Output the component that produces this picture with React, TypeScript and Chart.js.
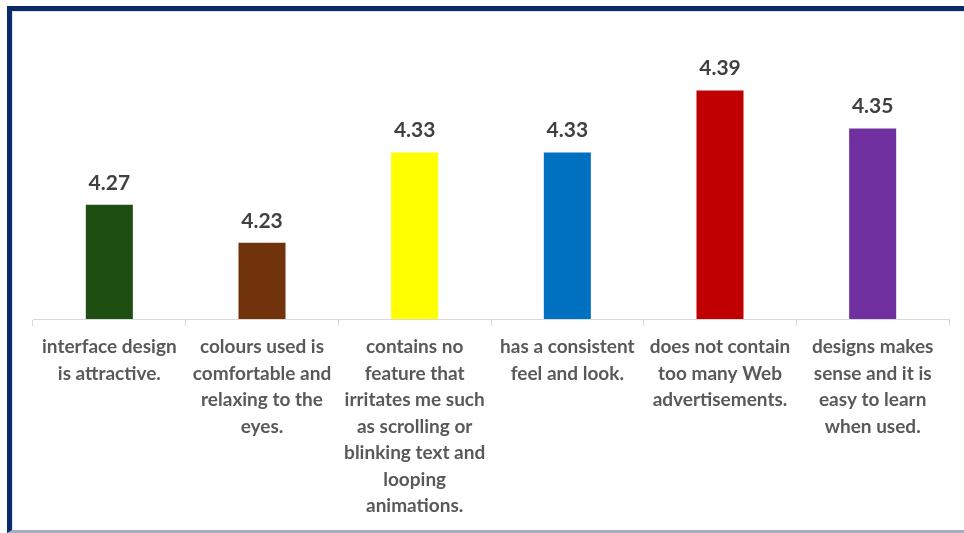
import React, { useEffect, useRef } from "react";
import { Chart, registerables } from "chart.js";

Chart.register(...registerables);

const categories: string[][] = [
  ["interface design", "is attractive."],
  ["colours used is", "comfortable and", "relaxing to the", "eyes."],
  ["contains no", "feature that", "irritates me such", "as scrolling or", "blinking text and", "looping", "animations."],
  ["has a consistent", "feel and look."],
  ["does not contain", "too many Web", "advertisements."],
  ["designs makes", "sense and it is", "easy to learn", "when used."],
];

const values: number[] = [4.27, 4.23, 4.325, 4.325, 4.39, 4.35];
const valueLabels: string[] = ["4.27", "4.23", "4.33", "4.33", "4.39", "4.35"];
const barColors: string[] = ["#1f4e13", "#70330b", "#ffff00", "#0070c0", "#c00000", "#7030a0"];

const FONT = "Lato, 'Open Sans', sans-serif";

const valueLabelPlugin = {
  id: "valueLabels",
  afterDatasetsDraw(chart: any) {
    const ctx = chart.ctx;
    const meta = chart.getDatasetMeta(0);
    ctx.save();
    ctx.font = `bold 21px ${FONT}`;
    ctx.fillStyle = "#404040";
    ctx.textAlign = "center";
    ctx.textBaseline = "middle";
    meta.data.forEach((bar: any, i: number) => {
      ctx.fillText(valueLabels[i], bar.x, bar.y - 22);
    });
    ctx.restore();
  },
};

export default function App() {
  const ref = useRef<HTMLCanvasElement | null>(null);

  useEffect(() => {
    if (!ref.current) return;
    const chart = new Chart(ref.current, {
      type: "bar",
      data: {
        labels: categories,
        datasets: [
          {
            data: values,
            backgroundColor: barColors,
            borderWidth: 0,
            barPercentage: 0.308,
            categoryPercentage: 1,
          },
        ],
      },
      options: {
        animation: false,
        responsive: false,
        maintainAspectRatio: false,
        layout: { padding: { left: 33, right: 15, top: 81, bottom: 0 } },
        plugins: {
          legend: { display: false },
          tooltip: { enabled: false },
        },
        scales: {
          x: {
            grid: {
              offset: true,
              drawOnChartArea: false,
              drawTicks: true,
              tickLength: 7,
              color: "#d9d9d9",
            },
            border: { display: true, color: "#d9d9d9", width: 1 },
            ticks: {
              color: "#595959",
              font: { family: FONT, size: 19, weight: "bold", lineHeight: "26.5px" } as any,
              padding: 8,
              maxRotation: 0,
              minRotation: 0,
              autoSkip: false,
            },
            afterFit: (scale: any) => {
              scale.height = 214;
            },
          },
          y: {
            display: false,
            min: 4.15,
            max: 4.4,
          },
        },
      },
      plugins: [valueLabelPlugin],
    });
    return () => chart.destroy();
  }, []);

  return (
    <div
      style={{
        position: "absolute",
        left: 0,
        top: 0,
        width: 964,
        height: 533,
        overflow: "hidden",
        background: "#ffffff",
      }}
    >
      <div
        style={{
          position: "absolute",
          left: 7,
          top: 6,
          width: 1000,
          height: 527,
          boxSizing: "border-box",
          borderLeft: "5px solid #0b2a6a",
          borderTop: "5px solid #0b2a6a",
          borderBottom: "3px solid #a3aec3",
          boxShadow: "inset 1px 1px 0 #dfe3ea",
        }}
      />
      <canvas
        ref={ref}
        width={964}
        height={533}
        style={{ position: "absolute", left: 0, top: 0, width: 964, height: 533 }}
      />
    </div>
  );
}
